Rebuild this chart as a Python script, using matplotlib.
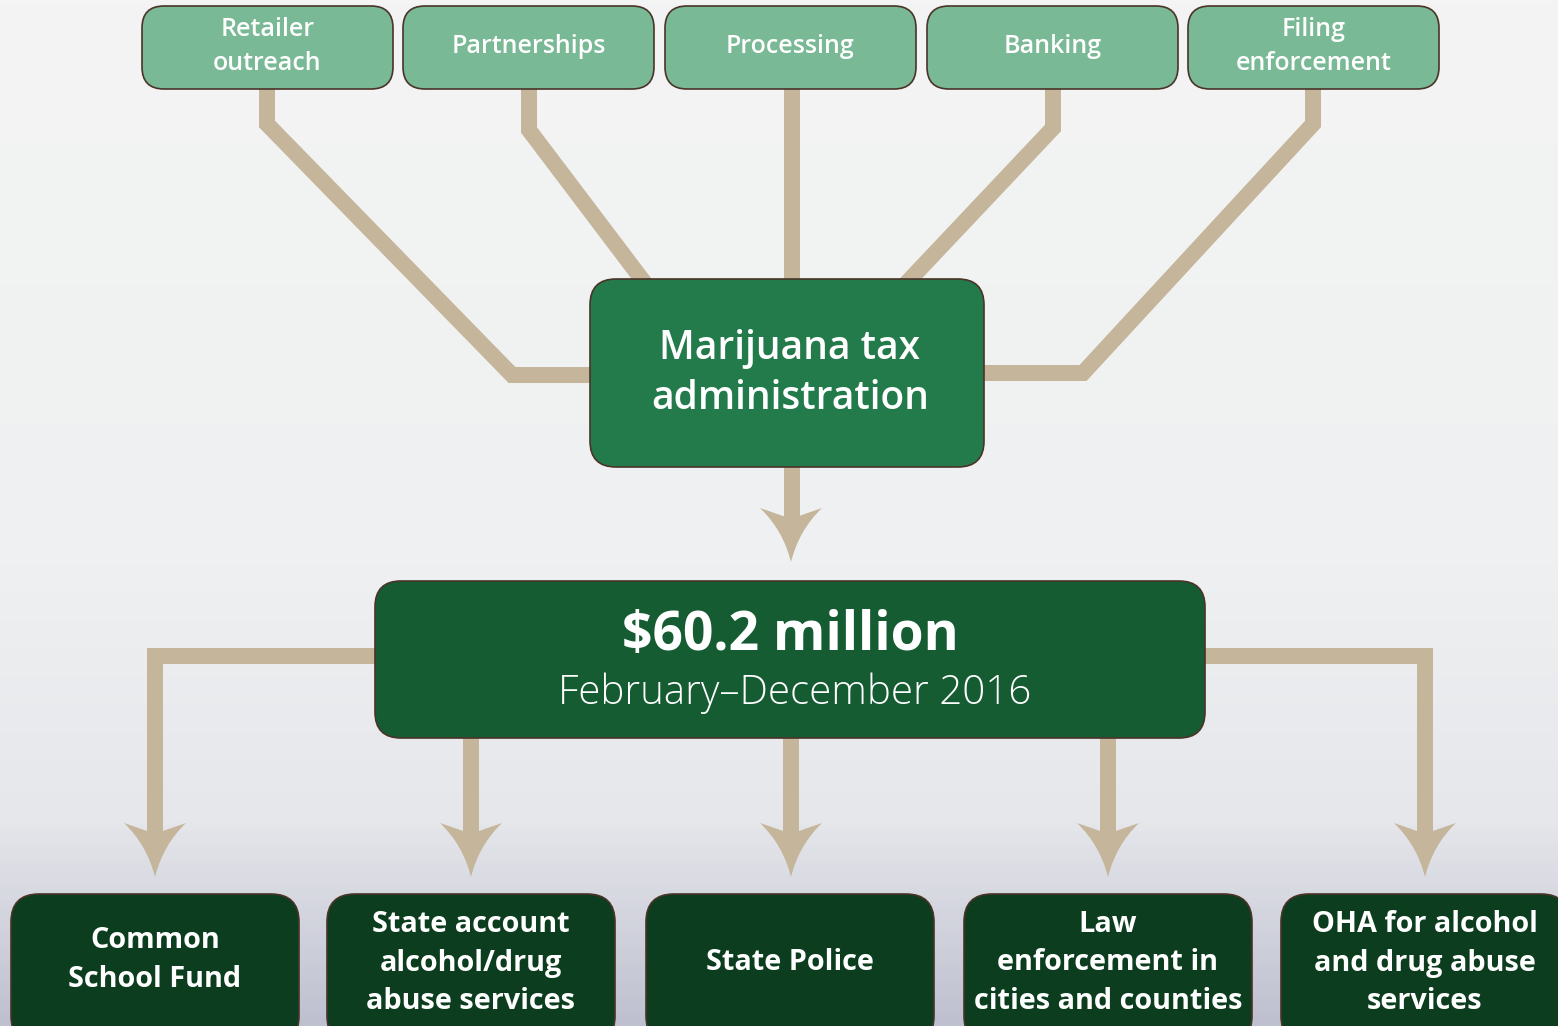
import matplotlib
matplotlib.use("Agg")
from matplotlib import pyplot as plt
from matplotlib.patches import FancyBboxPatch, PathPatch
from matplotlib.path import Path
from matplotlib.colors import LinearSegmentedColormap
import numpy as np

# chart content
top_labels = ["Retailer\noutreach", "Partnerships", "Processing", "Banking", "Filing\nenforcement"]
hub_label = "Marijuana tax\nadministration"
total_label = "$60.2 million"
period_label = "February\u2013December 2016"
bottom_labels = ["Common\nSchool Fund", "State account\nalcohol/drug\nabuse services", "State Police",
                 "Law\nenforcement in\ncities and counties", "OHA for alcohol\nand drug abuse\nservices"]

# layout (pixel coordinates, y down)
W, H = 1558, 1026
top_x = [142, 403, 665, 927, 1188]
top_w, top_y, top_h = 251, 6, 83
bot_x = [11, 327, 646, 964, 1281]
bot_w, bot_y, bot_h = 288, 894, 150

tan = "#C5B59B"
edge = "#4a3328"
light_green = "#79B995"
mid_green = "#237B4B"
dark_green = "#165C32"
deep_green = "#0B3D1E"
lw = 16 * 72 / 100  # 16 px

fig = plt.figure(figsize=(W / 100, H / 100), dpi=100)
ax = fig.add_axes([0, 0, 1, 1])
ax.set_xlim(0, W)
ax.set_ylim(H, 0)
ax.axis("off")

# background gradient
bg = LinearSegmentedColormap.from_list("bg", [(0, "#F3F4F3"), (0.55, "#EFF0F1"),
                                               (0.8, "#E6E7EB"), (1, "#BEC0D0")])
grad = np.linspace(0, 1, 256).reshape(-1, 1)
ax.imshow(grad, cmap=bg, extent=[0, W, H, 0], aspect="auto", zorder=0)


def box(x, y, w, h, color, r=22):
    p = FancyBboxPatch((x, y), w, h, boxstyle=f"round,pad=0,rounding_size={r}",
                       fc=color, ec=edge, lw=1.2, zorder=3)
    ax.add_patch(p)


def connector(xs, ys):
    ax.plot(xs, ys, color=tan, lw=lw, solid_joinstyle="miter", solid_capstyle="butt", zorder=1)


def arrowhead(x, tip):
    verts = [(x - 31, tip - 54), (x - 8, tip - 32), (x, tip),
             (x + 8, tip - 32), (x + 31, tip - 54),
             (x + 8, tip - 46), (x - 8, tip - 46), (x - 31, tip - 54)]
    codes = [Path.MOVETO, Path.CURVE3, Path.CURVE3, Path.CURVE3, Path.CURVE3,
             Path.LINETO, Path.LINETO, Path.CLOSEPOLY]
    ax.add_patch(PathPatch(Path(verts, codes), fc=tan, ec="none", zorder=1))


# connectors from top boxes into the hub
connector([267, 267, 512, 600], [89, 124, 375, 375])
connector([529, 529, 650], [89, 130, 290])
connector([792, 792], [89, 290])
connector([1053, 1053, 900], [89, 128, 290])
connector([1313, 1313, 1083, 975], [89, 124, 373, 373])

# hub -> total
connector([792, 792], [460, 520])
arrowhead(791, 562)

# total -> destinations
connector([385, 155, 155], [656, 656, 836])
connector([1195, 1425, 1425], [656, 656, 836])
for bx in [471, 791, 1108]:
    connector([bx, bx], [730, 836])
for bx in [155, 471, 791, 1108, 1425]:
    arrowhead(bx, 877)

font = ["Open Sans", "DejaVu Sans"]

for x, lab in zip(top_x, top_labels):
    box(x, top_y, top_w, top_h, light_green)
    ax.text(x + top_w / 2, top_y + top_h / 2 - 1, lab, ha="center", va="center", color="white",
            fontsize=18, fontweight="semibold", family=font, linespacing=1.45, zorder=4)

box(590, 279, 394, 188, mid_green, r=26)
ax.text(790, 374, hub_label, ha="center", va="center", color="white", fontsize=28,
        fontweight="semibold", family=font, linespacing=1.32, zorder=4)

box(375, 581, 830, 157, dark_green, r=26)
ax.text(790, 636, total_label, ha="center", va="center", color="white", fontsize=38.5,
        fontweight="bold", family=font, zorder=4)
ax.text(795, 693, period_label, ha="center", va="center", color="white", fontsize=29,
        fontweight="light", family=font, zorder=4)

for x, lab in zip(bot_x, bottom_labels):
    box(x, bot_y, bot_w, bot_h, deep_green, r=28)
    cy = 960 if lab.count("\n") == 1 else 963
    ax.text(x + bot_w / 2, cy, lab, ha="center", va="center", color="white", fontsize=20.8,
            fontweight="bold", family=font, linespacing=1.42, zorder=4)

fig.savefig("out.png", dpi=100)
